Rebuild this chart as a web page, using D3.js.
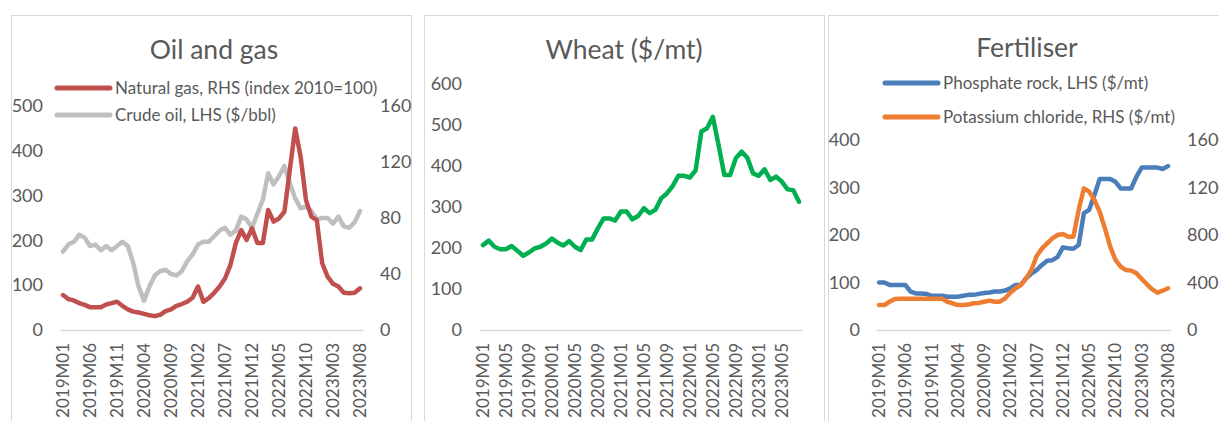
<!DOCTYPE html>
<html>
<head>
<meta charset="utf-8">
<script src="https://cdn.jsdelivr.net/npm/d3@7"></script>
<style>
  body { margin: 0; background: #fff; }
  text { font-family: Lato, "Open Sans", sans-serif; fill: #595959; }
</style>
</head>
<body>
<svg id="chart" width="1219" height="421"></svg>
<script>
// month categories, 2019M01 .. 2023M08
const months = [
  "2019M01","2019M02","2019M03","2019M04","2019M05","2019M06","2019M07","2019M08","2019M09","2019M10","2019M11","2019M12",
  "2020M01","2020M02","2020M03","2020M04","2020M05","2020M06","2020M07","2020M08","2020M09","2020M10","2020M11","2020M12",
  "2021M01","2021M02","2021M03","2021M04","2021M05","2021M06","2021M07","2021M08","2021M09","2021M10","2021M11","2021M12",
  "2022M01","2022M02","2022M03","2022M04","2022M05","2022M06","2022M07","2022M08","2022M09","2022M10","2022M11","2022M12",
  "2023M01","2023M02","2023M03","2023M04","2023M05","2023M06","2023M07","2023M08"
];

// Oil and gas
const naturalGas = [78,69,66,60,56,51,51,51,57,60,63,54,46,41,39,36,33,31,34,42,46,54,58,63,72,97,63,71,83,97,115,145,
  194,223,201,227,194,194,268,242,249,264,357,450,387,290,253,245,149,119,103,97,83,82,83,93];
const crudeOil = [56,61,63,68,66,60,61,57,60,57,60,63,60,48,31,21,31,39,42,43,40,39,42,49,54,61,63,63,67,71,73,68,
  71,81,79,73,83,93,112,104,110,117,105,94,87,88,85,79,80,80,76,81,74,73,77,85];

// Wheat
const wheat = [207,218,203,197,197,205,193,181,189,199,203,211,223,213,206,217,203,195,221,221,248,272,272,267,289,289,270,278,
  297,285,293,321,333,351,376,376,372,389,484,492,520,451,378,378,419,435,420,382,376,392,366,374,362,343,341,313];

// Fertiliser
const phosphate = [100,100,95,95,95,95,81,77,77,76,72,72,72,70,70,70,72,74,74,76,78,79,81,81,83,88,95,95,109,119,126,137,
  146,147,154,174,172,171,179,246,253,284,318,318,318,312,298,298,298,323,342,342,342,342,339,345];
const potassium = [210,210,238,261,263,263,263,263,263,263,263,263,263,238,225,210,210,214,225,228,238,247,238,238,267,314,
  351,379,435,505,623,685,730,772,800,808,786,786,1010,1193,1165,1095,996,856,702,590,533,505,500,477,430,385,342,314,331,351];

const every5 = months.filter((m, i) => i % 5 === 0);
const every4 = months.filter((m, i) => i % 4 === 0);

const svg = d3.select("#chart");

// panel frames
const frames = [[11, 15, 400], [424, 15, 400], [828, 15, 400]];
svg.selectAll("rect.frame").data(frames).enter().append("rect")
  .attr("class", "frame")
  .attr("x", d => d[0] + 0.5).attr("y", d => d[1] + 0.5)
  .attr("width", d => d[2]).attr("height", 430)
  .attr("fill", "none").attr("stroke", "#D9D9D9").attr("stroke-width", 1);

function drawPanel(cfg) {
  const g = svg.append("g");
  const x = d3.scaleBand().domain(months).range(cfg.xRange).padding(0);
  const xc = d => x(d) + x.bandwidth() / 2;

  const yL = d3.scaleLinear().domain([0, cfg.leftMax]).range([330, cfg.top]);
  const yR = cfg.rightMax ? d3.scaleLinear().domain([0, cfg.rightMax]).range([330, cfg.top]) : null;

  // title
  g.append("text").attr("x", cfg.titleX).attr("y", cfg.titleY)
    .attr("text-anchor", "middle").attr("font-size", 26.5).text(cfg.title);

  // x axis
  const xAxis = g.append("g").attr("transform", "translate(0,330)")
    .call(d3.axisBottom(x).tickValues(cfg.xTicks).tickSize(0).tickSizeOuter(0));
  xAxis.select(".domain").attr("stroke", "#D9D9D9").attr("stroke-width", 1.5);
  xAxis.selectAll("text")
    .attr("transform", "rotate(-90)")
    .attr("x", -13).attr("y", 0).attr("dy", "0.35em")
    .style("text-anchor", "end").attr("font-size", 17).attr("fill", "#595959");

  // left axis
  const la = g.append("g").attr("transform", `translate(${cfg.leftX},0)`)
    .call(d3.axisLeft(yL).tickValues(cfg.leftTicks).tickSize(0).tickPadding(0).tickFormat(d3.format("d")));
  la.select(".domain").remove();
  la.selectAll("text").attr("font-size", 18).attr("fill", "#595959");

  if (yR) {
    const ra = g.append("g").attr("transform", `translate(${cfg.rightX},0)`)
      .call(d3.axisRight(yR).tickValues(cfg.rightTicks).tickSize(0).tickPadding(0).tickFormat(d3.format("d")));
    ra.select(".domain").remove();
    ra.selectAll("text").attr("font-size", 18).attr("fill", "#595959");
  }

  // series
  cfg.series.forEach(s => {
    const y = s.axis === "right" ? yR : yL;
    const line = d3.line().x((d, i) => xc(months[i])).y(d => y(d));
    g.append("path").datum(s.values)
      .attr("d", line)
      .attr("fill", "none").attr("stroke", s.color).attr("stroke-width", 4.5)
      .attr("stroke-linejoin", "round").attr("stroke-linecap", "round");
  });

  // legend
  if (cfg.legend) {
    const lg = g.append("g");
    cfg.legend.items.forEach((s, k) => {
      const ly = cfg.legend.y[k];
      lg.append("line")
        .attr("x1", cfg.legend.x).attr("x2", cfg.legend.x + 53)
        .attr("y1", ly).attr("y2", ly)
        .attr("stroke", s.color).attr("stroke-width", 5).attr("stroke-linecap", "round");
      lg.append("text").attr("x", cfg.legend.x + 58).attr("y", ly).attr("dy", "0.35em")
        .attr("font-size", 17).text(s.name);
    });
  }
}

const gas = { name: "Natural gas, RHS (index 2010=100)", color: "#C0504D", values: naturalGas, axis: "left" };
const oil = { name: "Crude oil, LHS ($/bbl)", color: "#BFBFBF", values: crudeOil, axis: "right" };
drawPanel({
  title: "Oil and gas", titleX: 214, titleY: 59,
  xRange: [60.3, 362.7], xTicks: every5, top: 106,
  leftMax: 500, leftTicks: [0, 100, 200, 300, 400, 500], leftX: 43,
  rightMax: 160, rightTicks: [0, 40, 80, 120, 160], rightX: 380,
  series: [oil, gas],
  legend: { x: 57, y: [88, 115], items: [gas, oil] }
});

drawPanel({
  title: "Wheat ($/mt)", titleX: 624, titleY: 59,
  xRange: [480.1, 801.9], xTicks: every4, top: 84,
  leftMax: 600, leftTicks: [0, 100, 200, 300, 400, 500, 600], leftX: 462,
  series: [{ color: "#00B050", values: wheat, axis: "left" }]
});

const phos = { name: "Phosphate rock, LHS ($/mt)", color: "#4A7EBB", values: phosphate, axis: "left" };
const pot = { name: "Potassium chloride, RHS ($/mt)", color: "#ED7D31", values: potassium, axis: "right" };
drawPanel({
  title: "Fertiliser", titleX: 1027, titleY: 57,
  xRange: [876.4, 1170.6], xTicks: every5, top: 140,
  leftMax: 400, leftTicks: [0, 100, 200, 300, 400], leftX: 860,
  rightMax: 1600, rightTicks: [0, 400, 800, 1200, 1600], rightX: 1187,
  series: [phos, pot],
  legend: { x: 885, y: [83, 117], items: [phos, pot] }
});
</script>
</body>
</html>
